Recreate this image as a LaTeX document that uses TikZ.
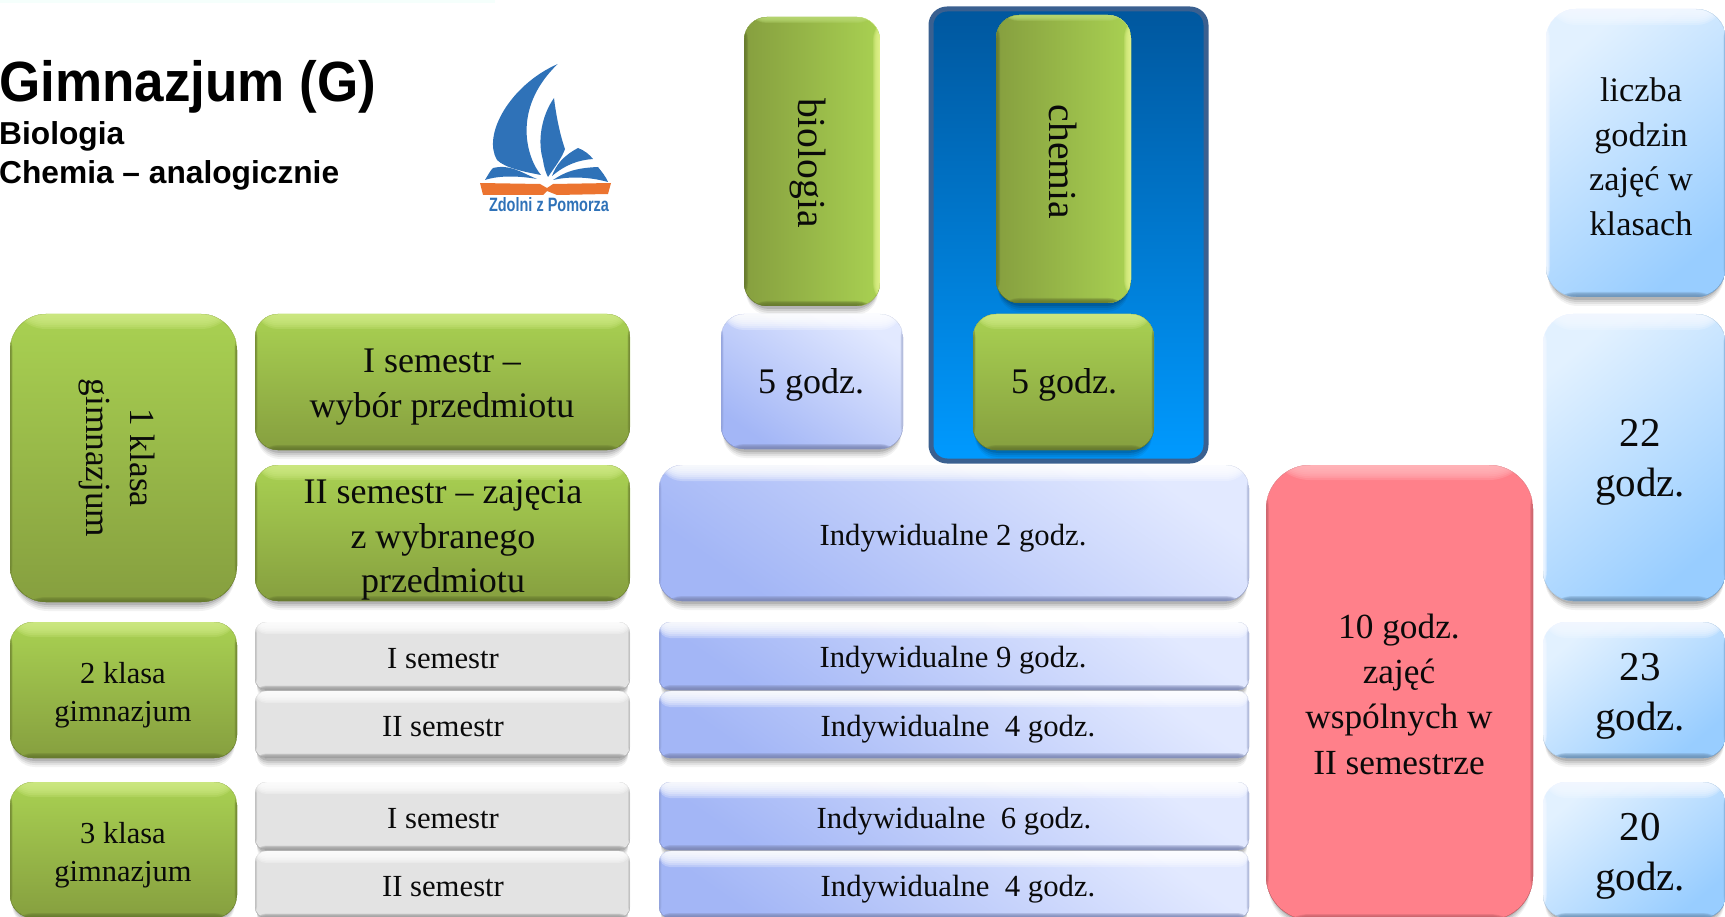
\documentclass[tikz,border=0pt]{standalone}
\usepackage{fontspec}
\setmainfont{Liberation Serif}
\newfontfamily\heros{Liberation Sans}
\definecolor{ctxt}{HTML}{0A0A0A}
\definecolor{logob}{HTML}{2F72B8}
\definecolor{logoo}{HTML}{EC7430}
\tikzset{
  edges/.style n args={8}{path picture={
    \foreach \k in {1,...,8}{
    \fill[#1,opacity=.25] (path picture bounding box.north west) rectangle ([yshift={-#2*\k/8}]path picture bounding box.north east);
    \fill[#3,opacity=.25] (path picture bounding box.south west) rectangle ([yshift={#4*\k/8}]path picture bounding box.south east);
    \fill[#5,opacity=.25] (path picture bounding box.north west) rectangle ([xshift={#6*\k/8}]path picture bounding box.south west);
    \fill[#7,opacity=.25] (path picture bounding box.north east) rectangle ([xshift={-#8*\k/8}]path picture bounding box.south east);
    }
  }},
  basebox/.style={inner sep=0pt,outer sep=0pt},
  greenV/.style={top color=AhG,middle color=MiG,bottom color=BhG,edges={HiG}{15pt}{LoG}{5pt}{LoG!60!BhG}{2.5pt}{LoG!60!BhG}{2.5pt}},
  greenH/.style={left color=BhG,right color=AhG,edges={white!20!AhG}{6pt}{LoG}{5pt}{LoG}{4pt}{HiY}{7pt}},
  blueD/.style={shading=axis,left color=BlA,right color=BlB,shading angle=145,edges={white}{16pt}{BlE}{5pt}{BlE!40!BlA}{2.5pt}{BlE!50!BlB}{2.5pt}},
  skyD/.style={shading=axis,left color=SkA,right color=SkB,shading angle=40,edges={white!60!SkA}{16pt}{SkE}{5pt}{white!60!SkA}{4pt}{SkE!60!SkB}{2.5pt}},
  greyF/.style={fill=GrA,edges={white}{12pt}{GrE}{4.5pt}{GrE!50!GrA}{2pt}{GrE!50!GrA}{2pt}},
  redF/.style={fill=ReA,edges={ReH}{15pt}{ReE}{6pt}{ReE!70!ReA}{3pt}{ReE!70!ReA}{3pt}},
  big/.style={align=center,inner sep=0pt,text=ctxt,font=\fontsize{36}{45}\selectfont},
  mid/.style={align=center,inner sep=0pt,text=ctxt,font=\fontsize{30.5}{38.5}\selectfont},
  small/.style={align=center,inner sep=0pt,text=ctxt,font=\fontsize{30.7}{40}\selectfont},
  hours/.style={big,font=\fontsize{41}{50}\selectfont},
}
\definecolor{AhG}{HTML}{A9D152}
\definecolor{MiG}{HTML}{A0C44D}
\definecolor{BhG}{HTML}{869F3F}
\definecolor{HiG}{HTML}{D0EA86}
\definecolor{HiY}{HTML}{E4F48E}
\definecolor{LoG}{HTML}{66792F}
\definecolor{BlA}{HTML}{A3B6F6}
\definecolor{BlB}{HTML}{E2E9FF}
\definecolor{BlE}{HTML}{7C87B4}
\definecolor{SkA}{HTML}{E2F1FF}
\definecolor{SkB}{HTML}{98CDFF}
\definecolor{SkE}{HTML}{6D93B7}
\definecolor{GrA}{HTML}{E3E3E3}
\definecolor{GrE}{HTML}{9A9A9A}
\definecolor{ReA}{HTML}{FF808A}
\definecolor{ReH}{HTML}{FFB9BE}
\definecolor{ReE}{HTML}{B25A61}
\definecolor{ConT}{HTML}{00579E}
\definecolor{ConB}{HTML}{009AFF}
\definecolor{ConE}{HTML}{3A6090}
\definecolor{strip}{HTML}{F5FFFC}
% name, x1, y1, x2, y2, radius, style
\newcommand{\bevel}[7]{%
  \foreach \sh/\op in {9/.05,7/.07,5/.09,3/.12}{
    \fill[black,opacity=\op,rounded corners=#6pt] (#2+2,#3+10) rectangle (#4-2,#5+\sh);
  }
  \pgfmathsetmacro{\bw}{#4-#2}\pgfmathsetmacro{\bh}{#5-#3}
  \node[basebox,#7,rounded corners=#6pt,minimum width=\bw pt,minimum height=\bh pt] (#1) at ({(#2+#4)/2},{(#3+#5)/2}) {};
}
\begin{document}
\begin{tikzpicture}[x=1pt,y=-1pt]
\useasboundingbox (0,0) rectangle (1725,917);
\clip (0,0) rectangle (1725,917);
\fill[strip] (0,0) rectangle (495,3);
% title
\node[anchor=west,inner sep=0pt,font=\heros\bfseries\fontsize{53}{60}\selectfont,text=black] (title) at (-1,87) {\scalebox{1}[1.07]{Gimnazjum (G)}};
\node[anchor=west,inner sep=0pt,font=\heros\bfseries\fontsize{31.7}{38.5}\selectfont,text=black,align=left] (sub) at (-1,156) {Biologia\\Chemia – analogicznie};
% logo
\fill[logob] (557.7,64) .. controls (510,85) and (482,135) .. (497,160) .. controls (505,168) and (525,172) .. (541,175) .. controls (528,160) and (510,110) .. cycle;
\fill[logob] (554,98) .. controls (542,115) and (537,140) .. (543,160) .. controls (544,168) and (546,173) .. (548,177) .. controls (554,168) and (562,158) .. (565,149) .. controls (560,135) and (556,115) .. cycle;
\fill[logob] (552,176) .. controls (556,165) and (563,156) .. (578,148) .. controls (584,150) and (590,155) .. (593,159) .. controls (578,160) and (565,165) .. cycle;
\fill[logob] (553,180) .. controls (565,172) and (575,168) .. (598,167) .. controls (602,172) and (606,177) .. (608,182) .. controls (590,177) and (570,176) .. cycle;
\fill[logob] (485,180) .. controls (488,175) and (490,171) .. (493,168) .. controls (510,164) and (520,172) .. (537,179) .. controls (520,176) and (500,175) .. cycle;
\fill[logoo] (480,183) -- (540,184) -- (547,188) -- (553,184) -- (611,183) -- (608,194) -- (557,195) -- (547,191) -- (543,195) -- (483,195) -- cycle;
\node[inner sep=0pt,text=logob,font=\heros\bfseries] (logot) at (549,205) {\resizebox{120pt}{14pt}{Zdolni z Pomorza}};
% container
\shade[top color=ConT,bottom color=ConB,draw=ConE,line width=5pt,rounded corners=16pt] (931,9) rectangle (1206,461);
% left column
\bevel{k1}{10}{314}{237}{602}{36}{greenV}
\bevel{k2}{10}{622}{237}{758}{23}{greenV}
\bevel{k3}{10}{782}{237}{918}{23}{greenV}
\bevel{s1}{255}{314}{630}{450}{23}{greenV}
\bevel{s2}{255}{465}{630}{601}{23}{greenV}
\bevel{g1}{255}{622}{630}{690}{11}{greyF}
\bevel{g2}{255}{691}{630}{758}{11}{greyF}
\bevel{g3}{255}{782}{630}{850}{11}{greyF}
\bevel{g4}{255}{851}{630}{918}{11}{greyF}
% subject tiles
\bevel{bio}{744}{17}{880}{306}{23}{greenH}
\bevel{che}{996}{15}{1131}{303}{23}{greenH}
\bevel{gb}{721}{314}{903}{449}{23}{blueD}
\bevel{gc}{973}{314}{1154}{450}{23}{greenV}
% individual hours
\bevel{i2}{659}{465}{1249}{601}{23}{blueD}
\bevel{i9}{659}{622}{1249}{690}{11}{blueD}
\bevel{i4a}{659}{691}{1249}{758}{11}{blueD}
\bevel{i6}{659}{782}{1249}{850}{11}{blueD}
\bevel{i4b}{659}{851}{1249}{918}{11}{blueD}
% red
\bevel{red}{1266}{465}{1533}{920}{44}{redF}
% right column
\bevel{liczba}{1546}{9}{1726}{297}{30}{skyD}
\bevel{h22}{1543}{314}{1726}{601}{30}{skyD}
\bevel{h23}{1543}{622}{1726}{758}{23}{skyD}
\bevel{h20}{1543}{782}{1726}{918}{23}{skyD}
% texts
\node[big,font=\fontsize{35.3}{44}\selectfont,rotate=-90] (k1t) at (117,458) {1 klasa\\gimnazjum};
\node[mid] (k2t) at (123,695) {2 klasa\\gimnazjum};
\node[mid] (k3t) at (123,855) {3 klasa\\gimnazjum};
\node[big] (s1t) at (442,387) {I semestr –\\wybór przedmiotu};
\node[big,font=\fontsize{36}{44.5}\selectfont] (s2t) at (443,540) {II semestr – zajęcia\\z wybranego\\przedmiotu};
\node[small] (g1t) at (443,659) {I semestr};
\node[small] (g2t) at (443,727) {II semestr};
\node[small] (g3t) at (443,819) {I semestr};
\node[small] (g4t) at (443,887) {II semestr};
\node[big,font=\fontsize{39.6}{45}\selectfont,rotate=-90] (biot) at (808,163) {biologia};
\node[big,font=\fontsize{39.6}{45}\selectfont,rotate=-90] (chet) at (1063,162) {chemia};
\node[big] (gbt) at (811,385) {5 godz.};
\node[big] (gct) at (1064,385) {5 godz.};
\node[small] (i2t) at (953,538) {Indywidualne 2 godz.};
\node[small] (i9t) at (953,660) {Indywidualne 9 godz.};
\node[small] (i4at) at (958,729) {Indywidualne\ \ 4 godz.};
\node[small] (i6t) at (954,821) {Indywidualne\ \ 6 godz.};
\node[small] (i4bt) at (958,889) {Indywidualne\ \ 4 godz.};
\node[big,font=\fontsize{35.3}{45.3}\selectfont] (redt) at (1399,694) {10 godz.\\zajęć\\wspólnych w\\II semestrze};
\node[big,font=\fontsize{34.3}{44.5}\selectfont] (lit) at (1641,157) {liczba\\godzin\\zajęć w\\klasach};
\node[hours] (h22t) at (1640,462) {22\\godz.};
\node[hours] (h23t) at (1640,696) {23\\godz.};
\node[hours] (h20t) at (1640,856) {20\\godz.};
\end{tikzpicture}
\end{document}
